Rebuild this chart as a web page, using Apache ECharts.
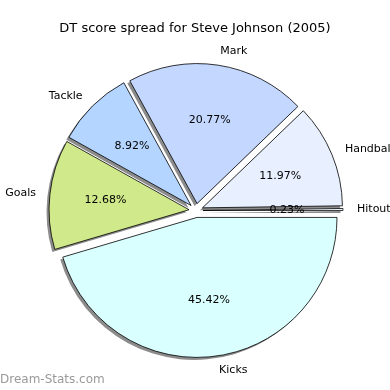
<!DOCTYPE html>
<html><head><meta charset="utf-8">
<script src="https://cdn.jsdelivr.net/npm/echarts@6/dist/echarts.min.js"></script>
<style>html,body{margin:0;padding:0;background:#fff}#c{width:390px;height:390px}</style>
</head><body><div id="c"></div>
<script>
const categories = ['Hitout', 'Handball', 'Mark', 'Tackle', 'Goals', 'Kicks'];
const values = [0.23, 11.97, 20.77, 8.92, 12.68, 45.42];
const colors = ['#f4f8ff', '#e8f0ff', '#c4d8ff', '#b4d5ff', '#d0e98a', '#d9ffff'];

const R = 140, CX = 196, CY = 210.5, OFF = 7;
const mk = (col) => categories.map((n, i) => ({
  name: n, value: values[i], selected: true,
  itemStyle: { color: col || colors[i] }
}));
const font = 'DejaVu Sans';
const common = {
  type: 'pie', startAngle: 0, clockwise: false,
  selectedMode: 'multiple', selectedOffset: OFF, avoidLabelOverlap: false,
  silent: true, emphasis: { disabled: true }
};
const chart = echarts.init(document.getElementById('c'), null, { renderer: 'canvas' });
chart.setOption({
  animation: false,
  title: {
    text: 'DT score spread for Steve Johnson (2005)', left: 'center', top: 17,
    textStyle: { fontFamily: font, fontSize: 13, fontWeight: 'normal', color: '#000' }
  },
  graphic: [{
    type: 'text', left: 0, top: 374,
    style: { text: 'Dream-Stats.com', font: '12px "DejaVu Sans"', fill: '#9a9a9a' }
  }],
  series: [
    Object.assign({}, common, {
      z: 1, center: [CX - 2.5, CY + 2.5], radius: [0, R],
      itemStyle: { borderWidth: 0 },
      label: { show: false }, labelLine: { show: false },
      data: mk('#8c8c8c')
    }),
    Object.assign({}, common, {
      z: 2, center: [CX, CY], radius: [0, R],
      itemStyle: { borderColor: '#000', borderWidth: 0.8 },
      label: { show: true, position: 'outside', fontFamily: font, fontSize: 11, color: '#000', overflow: 'none', distanceToLabelLine: 0, formatter: p => p.name },
      labelLine: { show: false, length: 14, length2: 0 },
      data: mk()
    }),
    Object.assign({}, common, {
      z: 3, center: [CX, CY], radius: [22, R],
      itemStyle: { borderWidth: 0 },
      label: { show: true, position: 'inside', fontFamily: font, fontSize: 11, color: '#000', formatter: p => p.value.toFixed(2) + '%' },
      labelLine: { show: false },
      data: mk('rgba(0,0,0,0)')
    })
  ]
});
</script></body></html>
